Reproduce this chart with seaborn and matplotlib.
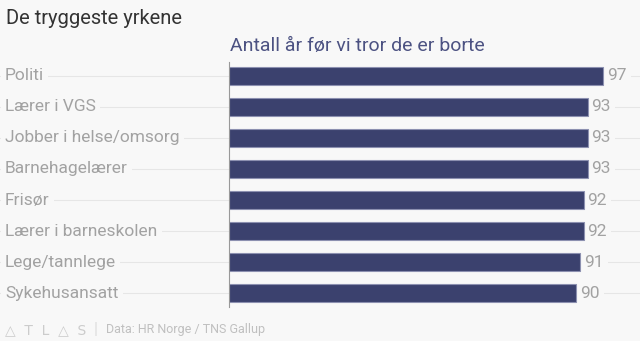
import matplotlib
matplotlib.use("Agg")
import matplotlib.pyplot as plt
import seaborn as sns
import pandas as pd

categories = ["Politi", "Lærer i VGS", "Jobber i helse/omsorg", "Barnehagelærer",
              "Frisør", "Lærer i barneskolen", "Lege/tannlege", "Sykehusansatt"]
values = [97, 93, 93, 93, 92, 92, 91, 90]
title = "De tryggeste yrkene"
subtitle = "Antall år før vi tror de er borte"
source = "Data: HR Norge / TNS Gallup"

sns.set_theme(style="white")
plt.rcParams['font.family'] = ['Roboto', 'DejaVu Sans']

BG = "#f8f8f8"
BAR = "#3b416e"
GRAY = "#a2a2a2"

df = pd.DataFrame({"cat": categories, "val": values})

fig = plt.figure(figsize=(6.4, 3.41), dpi=100, facecolor=BG)
ax = fig.add_axes([229/640, 1-307/341, (640-229)/640, (307-62)/341])
ax.set_facecolor("none")

sns.barplot(data=df, x="val", y="cat", orient="h", color=BAR, width=0.58,
            edgecolor="#8c90b0", linewidth=0.8, saturation=1, ax=ax, zorder=3)

ax.set_xlim(0, 97 * (640-229) / 374)
ax.set_ylim(len(categories)-0.55, -0.45)
for s in ["top", "right", "bottom"]:
    ax.spines[s].set_visible(False)
ax.spines["left"].set_color("#999999")
ax.spines["left"].set_linewidth(0.8)
ax.spines["left"].set_zorder(4)
ax.set_xticks([])
ax.set_yticks([])
ax.set_xlabel("")
ax.set_ylabel("")

trans = ax.get_yaxis_transform()
for i, (c, v) in enumerate(zip(categories, values)):
    ax.plot([-229/(640-229), 1.0], [i, i], transform=trans, color="#e6e6e6",
            lw=0.8, zorder=1, clip_on=False)
    ax.text(-224/(640-229), i, c, transform=trans,
            ha="left", va="center", fontsize=12.5, color=GRAY, zorder=2,
            bbox=dict(boxstyle="square,pad=0.25", fc=BG, ec="none"))
    ax.text(v + 1.0, i, str(v), ha="left", va="center", fontsize=12.5,
            color=GRAY, zorder=2,
            bbox=dict(boxstyle="square,pad=0.25", fc=BG, ec="none"))

fig.text(6/640, 1-18/341, title, ha="left", va="center", fontsize=14.5,
         color="#333333")
fig.text(230/640, 1-46/341, subtitle, ha="left", va="center", fontsize=14,
         color="#4c5282")

fig.text(5/640, 1-330/341, "\u25B3  T  L  \u25B3  S", ha="left", va="center",
         fontsize=10, color="#cccccc", family=["DejaVu Sans"])
fig.text(96/640, 1-330/341, "|", ha="center", va="center", fontsize=12, color="#dddddd")
fig.text(106/640, 1-330/341, source, ha="left", va="center", fontsize=9, color="#c0c0c0")

fig.savefig("out.png", dpi=100, facecolor=BG)
